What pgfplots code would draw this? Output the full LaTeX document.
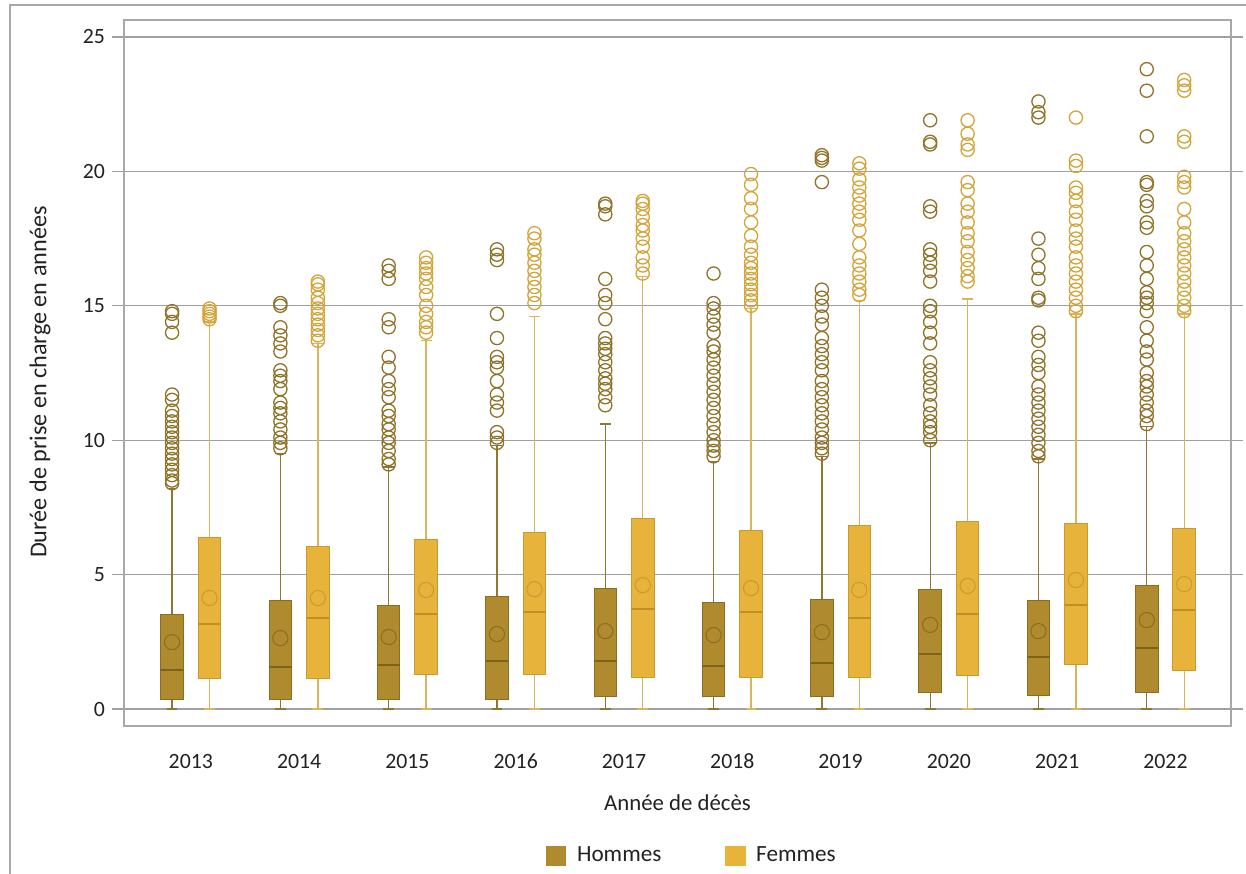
\documentclass[border=0pt]{standalone}
\usepackage{fontspec}
\setmainfont{Carlito}
\usepackage{pgfplots}
\pgfplotsset{compat=1.18}
\usepgfplotslibrary{statistics}
\definecolor{hfill}{HTML}{B08A2E}
\definecolor{hedge}{HTML}{8A6D1E}
\definecolor{hmed}{HTML}{7D6219}
\definecolor{hwhisk}{HTML}{8E7633}
\definecolor{hout}{HTML}{8F7328}
\definecolor{ffill}{HTML}{E8B33A}
\definecolor{fedge}{HTML}{C99A2E}
\definecolor{fmed}{HTML}{C08F24}
\definecolor{fwhisk}{HTML}{D9B35E}
\definecolor{fout}{HTML}{D2A43A}
\definecolor{gridc}{HTML}{A0A0A0}
\definecolor{axc}{HTML}{A8A8A8}
\definecolor{txt}{HTML}{222222}
\pgfplotsset{
  hstyle/.style={solid, draw=hedge, fill=hfill, line width=0.5pt,
    mark=o, mark size=3.3pt, mark options={draw=hout, fill=none, line width=0.65pt},
    boxplot/draw direction=y,
    boxplot/every median/.style={draw=hmed, line width=0.8pt},
    boxplot/every whisker/.style={draw=hwhisk, line width=0.65pt},
    boxplot/every average/.style={/tikz/mark=o, /tikz/mark size=3.8pt, draw=hmed, line width=0.75pt, fill=none}},
  fstyle/.style={solid, draw=fedge, fill=ffill, line width=0.5pt,
    mark=o, mark size=3.3pt, mark options={draw=fout, fill=none, line width=0.65pt},
    boxplot/draw direction=y,
    boxplot/every median/.style={draw=fmed, line width=0.8pt},
    boxplot/every whisker/.style={draw=fwhisk, line width=0.65pt},
    boxplot/every average/.style={/tikz/mark=o, /tikz/mark size=3.8pt, draw=fmed, line width=0.75pt, fill=none}},
}
% #1 style, #2 position, #3 lower whisker, #4 lower quartile, #5 median, #6 upper quartile, #7 upper whisker, #8 average, #9 outliers
\newcommand{\bp}[9]{%
  \addplot[#1, forget plot, boxplot prepared={draw position=#2, box extend=0.208, whisker extend=0.1,
    lower whisker=#3, lower quartile=#4, median=#5, upper quartile=#6, upper whisker=#7, average=#8}]
    table[row sep=\\, y index=0] {y\\ #9};}
\begin{document}
\begin{tikzpicture}
\useasboundingbox (-62pt,-73.5pt) rectangle (561pt,363pt);
\draw[axc, line width=0.6pt] (-57pt,-80pt) -- (-57pt,360.5pt) -- (570pt,360.5pt);
\begin{axis}[
  at={(0,0)}, anchor=south west,
  scale only axis, width=553.5pt, height=353pt,
  xmin=-0.617, xmax=9.605, ymin=-0.63, ymax=25.63,
  xtick={0,1,2,3,4,5,6,7,8,9},
  xticklabels={2013,2014,2015,2016,2017,2018,2019,2020,2021,2022},
  ytick={0,5,10,15,20,25},
  xtick style={draw=none},
  ytick style={draw=gridc, line width=0.6pt},
  tick align=outside, major tick length=6pt,
  ymajorgrids, grid style={draw=gridc, line width=0.65pt},
  axis line style={draw=axc, line width=0.6pt},
  /pgf/number format/assume math mode=true,
  tick label style={font=\fontsize{10.9}{13}\selectfont, text=txt},
  xticklabel style={anchor=base, yshift=-15pt},
  every axis x label/.style={at={(axis description cs:0.5,-0.109)}, anchor=center,
    font=\fontsize{11.4}{14}\selectfont, text=txt},
  every axis y label/.style={at={(axis description cs:-0.0759,0.487)}, rotate=90, anchor=center,
    font=\fontsize{12.1}{14}\selectfont, text=txt},
  xlabel={Année de décès},
  ylabel={Durée de prise en charge en années},
  legend style={at={(axis description cs:0.514,-0.184)}, anchor=center, draw=none, fill=none,
    font=\fontsize{11.6}{13}\selectfont, text=txt, legend columns=2,
    /tikz/every even column/.append style={column sep=30pt}},
  legend cell align=left,
]
% Hommes
\bp{hstyle}{-0.173}{0}{0.37}{1.46}{3.53}{8.2}{2.49}{14.8\\ 14.7\\ 14.4\\ 14.0\\ 11.7\\ 11.5\\ 11.1\\ 10.9\\ 10.7\\ 10.5\\ 10.3\\ 10.1\\ 9.9\\ 9.7\\ 9.5\\ 9.3\\ 9.1\\ 8.9\\ 8.7\\ 8.5\\ 8.4\\}
\bp{hstyle}{0.827}{0}{0.37}{1.56}{4.02}{9.5}{2.64}{15.1\\ 15.0\\ 14.2\\ 13.9\\ 13.6\\ 13.3\\ 12.6\\ 12.4\\ 12.2\\ 11.9\\ 11.4\\ 11.2\\ 11.0\\ 10.7\\ 10.4\\ 10.1\\ 9.9\\ 9.7\\}
\bp{hstyle}{1.827}{0}{0.37}{1.64}{3.87}{9.0}{2.68}{16.5\\ 16.3\\ 16.0\\ 14.5\\ 14.2\\ 13.1\\ 12.7\\ 12.2\\ 11.9\\ 11.6\\ 11.1\\ 10.9\\ 10.6\\ 10.4\\ 10.1\\ 9.9\\ 9.6\\ 9.3\\ 9.1\\}
\bp{hstyle}{2.827}{0}{0.37}{1.79}{4.17}{9.8}{2.79}{17.1\\ 16.9\\ 16.7\\ 14.7\\ 13.8\\ 13.1\\ 12.9\\ 12.7\\ 12.2\\ 11.7\\ 11.4\\ 11.1\\ 10.3\\ 10.1\\ 9.9\\}
\bp{hstyle}{3.827}{0}{0.45}{1.79}{4.50}{10.6}{2.90}{18.8\\ 18.7\\ 18.4\\ 16.0\\ 15.4\\ 15.1\\ 14.5\\ 13.8\\ 13.6\\ 13.4\\ 13.2\\ 12.9\\ 12.6\\ 12.3\\ 12.1\\ 11.9\\ 11.6\\ 11.3\\}
\bp{hstyle}{4.827}{0}{0.45}{1.60}{3.98}{9.2}{2.75}{16.2\\ 15.1\\ 14.9\\ 14.6\\ 14.3\\ 14.0\\ 13.5\\ 13.3\\ 13.0\\ 12.7\\ 12.4\\ 12.1\\ 11.8\\ 11.5\\ 11.2\\ 10.9\\ 10.6\\ 10.3\\ 10.0\\ 9.8\\ 9.6\\ 9.4\\}
\bp{hstyle}{5.827}{0}{0.45}{1.71}{4.06}{9.4}{2.86}{20.6\\ 20.5\\ 20.4\\ 19.6\\ 15.6\\ 15.3\\ 15.0\\ 14.6\\ 14.3\\ 13.8\\ 13.5\\ 13.2\\ 12.9\\ 12.6\\ 12.2\\ 11.9\\ 11.6\\ 11.3\\ 11.0\\ 10.7\\ 10.4\\ 10.1\\ 9.9\\ 9.7\\ 9.5\\}
\bp{hstyle}{6.827}{0}{0.63}{2.05}{4.43}{9.9}{3.13}{21.9\\ 21.1\\ 21.0\\ 18.7\\ 18.5\\ 17.1\\ 16.9\\ 16.6\\ 16.3\\ 15.9\\ 15.0\\ 14.8\\ 14.4\\ 14.0\\ 13.6\\ 12.9\\ 12.6\\ 12.3\\ 12.0\\ 11.7\\ 11.3\\ 11.0\\ 10.7\\ 10.5\\ 10.3\\ 10.0\\}
\bp{hstyle}{7.827}{0}{0.52}{1.93}{4.02}{9.3}{2.90}{22.6\\ 22.2\\ 22.0\\ 17.5\\ 16.9\\ 16.4\\ 16.0\\ 15.3\\ 15.2\\ 14.0\\ 13.7\\ 13.1\\ 12.8\\ 12.5\\ 12.0\\ 11.7\\ 11.4\\ 11.1\\ 10.8\\ 10.5\\ 10.2\\ 9.9\\ 9.6\\ 9.4\\}
\bp{hstyle}{8.827}{0}{0.60}{2.27}{4.58}{10.5}{3.31}{23.8\\ 23.0\\ 21.3\\ 19.6\\ 19.5\\ 18.9\\ 18.7\\ 18.1\\ 17.9\\ 17.0\\ 16.5\\ 16.0\\ 15.5\\ 15.3\\ 15.1\\ 14.8\\ 14.2\\ 13.7\\ 13.3\\ 13.0\\ 12.5\\ 12.2\\ 12.0\\ 11.7\\ 11.4\\ 11.1\\ 10.9\\ 10.6\\}
% Femmes
\bp{fstyle}{0.173}{0}{1.12}{3.16}{6.40}{14.4}{4.13}{14.9\\ 14.8\\ 14.7\\ 14.6\\ 14.5\\}
\bp{fstyle}{1.173}{0}{1.12}{3.39}{6.06}{13.6}{4.13}{15.9\\ 15.8\\ 15.6\\ 15.3\\ 15.1\\ 14.9\\ 14.7\\ 14.5\\ 14.3\\ 14.1\\ 13.9\\ 13.7\\}
\bp{fstyle}{2.173}{0}{1.30}{3.53}{6.32}{13.7}{4.43}{16.8\\ 16.6\\ 16.4\\ 16.2\\ 16.0\\ 15.7\\ 15.4\\ 15.0\\ 14.7\\ 14.4\\ 14.2\\ 14.0\\}
\bp{fstyle}{3.173}{0}{1.30}{3.61}{6.58}{14.6}{4.46}{17.7\\ 17.5\\ 17.1\\ 16.9\\ 16.6\\ 16.3\\ 16.0\\ 15.7\\ 15.4\\ 15.1\\}
\bp{fstyle}{4.173}{0}{1.19}{3.72}{7.07}{16.1}{4.61}{18.9\\ 18.8\\ 18.6\\ 18.3\\ 18.0\\ 17.8\\ 17.5\\ 17.2\\ 16.8\\ 16.5\\ 16.2\\}
\bp{fstyle}{5.173}{0}{1.19}{3.61}{6.66}{14.9}{4.50}{19.9\\ 19.5\\ 19.0\\ 18.6\\ 18.1\\ 17.6\\ 17.2\\ 16.9\\ 16.6\\ 16.4\\ 16.2\\ 16.0\\ 15.8\\ 15.6\\ 15.4\\ 15.2\\ 15.0\\}
\bp{fstyle}{6.173}{0}{1.19}{3.39}{6.81}{15.2}{4.43}{20.3\\ 20.1\\ 19.7\\ 19.4\\ 19.1\\ 18.8\\ 18.5\\ 18.2\\ 17.8\\ 17.3\\ 16.8\\ 16.5\\ 16.2\\ 15.9\\ 15.6\\ 15.4\\}
\bp{fstyle}{7.173}{0}{1.26}{3.53}{6.99}{15.25}{4.58}{21.9\\ 21.4\\ 21.0\\ 20.8\\ 19.6\\ 19.3\\ 18.8\\ 18.5\\ 18.1\\ 17.7\\ 17.4\\ 17.0\\ 16.7\\ 16.4\\ 16.1\\ 15.9\\}
\bp{fstyle}{8.173}{0}{1.67}{3.87}{6.92}{14.7}{4.80}{22.0\\ 20.4\\ 20.2\\ 19.4\\ 19.2\\ 18.9\\ 18.5\\ 18.2\\ 17.8\\ 17.5\\ 17.2\\ 16.8\\ 16.5\\ 16.2\\ 15.9\\ 15.6\\ 15.3\\ 15.0\\ 14.8\\}
\bp{fstyle}{9.173}{0}{1.45}{3.68}{6.73}{14.7}{4.65}{23.4\\ 23.2\\ 23.0\\ 21.3\\ 21.1\\ 19.8\\ 19.6\\ 19.4\\ 18.6\\ 18.1\\ 17.7\\ 17.4\\ 17.1\\ 16.8\\ 16.5\\ 16.2\\ 15.9\\ 15.6\\ 15.3\\ 15.0\\ 14.8\\}
\addlegendimage{legend image code/.code={\fill[hfill] (0pt,-4.8pt) rectangle (9.6pt,4.8pt); \path (13pt,0pt);}}
\addlegendentry{Hommes}
\addlegendimage{legend image code/.code={\fill[ffill] (0pt,-4.8pt) rectangle (9.6pt,4.8pt); \path (13pt,0pt);}}
\addlegendentry{Femmes}
\end{axis}
\end{tikzpicture}
\end{document}
